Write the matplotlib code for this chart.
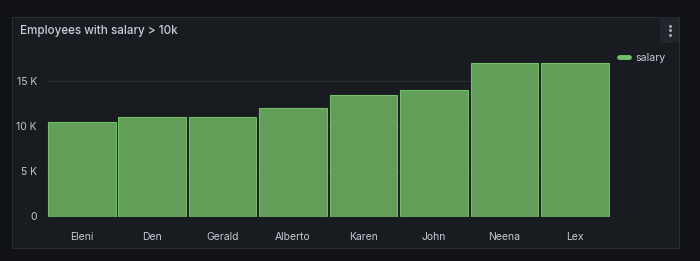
import matplotlib
matplotlib.use("Agg")
import matplotlib.pyplot as plt
from matplotlib.patches import Rectangle
from matplotlib.lines import Line2D

plt.rcParams['font.family'] = ['Inter', 'DejaVu Sans']

names = ["Eleni", "Den", "Gerald", "Alberto", "Karen", "John", "Neena", "Lex"]
salary = [10500, 11000, 11000, 12000, 13500, 14000, 17000, 17000]
yticks = [0, 5000, 10000, 15000]
ytick_labels = ["0", "5 K", "10 K", "15 K"]
title = "Employees with salary > 10k"
series_name = "salary"

W, H = 700, 261
fig = plt.figure(figsize=(W / 100, H / 100), dpi=100)
fig.patch.set_facecolor("#111217")

def fx(px):
    return px / W

def fy(py):
    return 1 - py / H

# panel
fig.patches.append(Rectangle((fx(12), fy(248)), fx(679) - fx(12), fy(17) - fy(248),
                             transform=fig.transFigure, facecolor="#181b1f",
                             edgecolor="#2a2d33", linewidth=0.8, zorder=-2))
# menu box
fig.patches.append(Rectangle((fx(660), fy(43)), fx(679) - fx(660), fy(17) - fy(43),
                             transform=fig.transFigure, facecolor="#22252b",
                             edgecolor="none", zorder=-1))
for dy in (25.5, 30, 34.5):
    fig.lines.append(Line2D([fx(669.5)], [fy(dy)], transform=fig.transFigure,
                            marker="o", markersize=2.2, color="#9fa7b3",
                            markeredgewidth=0, zorder=2))

fig.text(fx(20), fy(31), title, color="#ccccdc", fontsize=8.4, fontweight="medium",
         va="center", ha="left")

left, right, top, bottom = 46.5, 610, 54, 216.5
ax = fig.add_axes([fx(left), fy(bottom), fx(right) - fx(left), fy(top) - fy(bottom)])
ax.set_zorder(3)
ax.set_facecolor("none")
x = list(range(len(names)))
ax.bar(x, salary, width=0.96, color="#629e57", edgecolor="#73bf69", linewidth=0.8,
       zorder=3, label=series_name)
ax.set_xlim(-0.5, len(names) - 0.5)
ax.set_ylim(0, 18000)
ax.set_yticks(yticks)
ax.set_yticklabels(ytick_labels)
ax.set_xticks(x)
ax.set_xticklabels(names)
for s in ax.spines.values():
    s.set_visible(False)
ax.tick_params(axis="y", length=0, pad=7, labelsize=7.5, colors="#c7c8d2")
ax.tick_params(axis="x", length=0, pad=11, labelsize=7.5, colors="#c7c8d2")
ax.grid(axis="y", color="#2a2d33", linewidth=0.8, zorder=0)
ax.grid(axis="x", visible=False)
ax.set_axisbelow(True)

handle = Line2D([0], [0], color="#73bf69", lw=3.5, solid_capstyle="round")
leg = fig.legend([handle], [series_name], loc="center left",
                 bbox_to_anchor=(fx(619), fy(58)), frameon=False,
                 handlelength=0.9, handletextpad=0.65, fontsize=7.6,
                 labelcolor="#ccccdc", borderaxespad=0, borderpad=0)

fig.savefig("out.png", dpi=100, facecolor=fig.get_facecolor())
